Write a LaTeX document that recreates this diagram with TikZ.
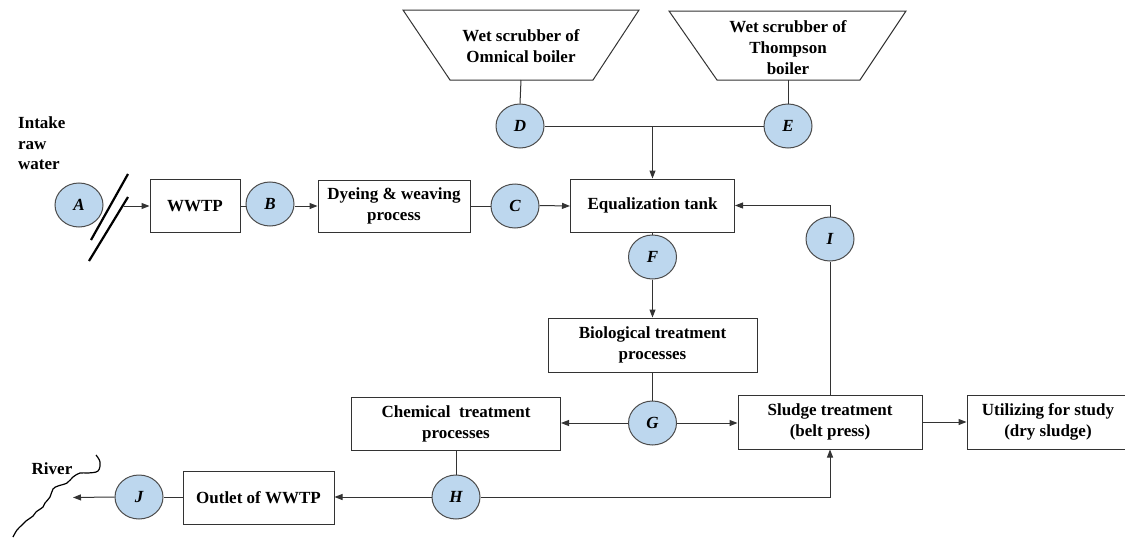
\documentclass[tikz,border=0pt]{standalone}
\usepackage{fontspec}
\setmainfont{Liberation Serif}
\usetikzlibrary{arrows.meta,shapes.geometric}
\definecolor{ptblue}{HTML}{BDD7EE}
\begin{document}
\begin{tikzpicture}[x=1pt,y=-1pt,
  every node/.style={font=\fontsize{17}{21}\selectfont\bfseries},
  box/.style={draw=black!80, line width=1pt, rectangle, align=center, inner sep=0pt},
  pt/.style={draw=black!70, line width=1pt, fill=ptblue, ellipse, minimum width=48pt, minimum height=44pt, inner sep=0pt, font=\fontsize{17}{21}\selectfont\bfseries\itshape},
  ln/.style={draw=black!80, line width=1pt},
  arr/.style={ln, -{Triangle[length=8pt,width=6pt]}},
]
\useasboundingbox (0,0) rectangle (1125,538);
\clip (0,0) rectangle (1125,538);

% text at left
\node[anchor=north west, align=left, inner sep=0pt, font=\fontsize{17}{20.5}\selectfont\bfseries] (intake) at (18,117) {Intake\\raw\\water};

% trapezoids
\draw[ln] (403,10) -- (639,10) -- (593,80) -- (450,80) -- cycle;
\node[align=center] (t1) at (521,46) {Wet scrubber of\\Omnical boiler};
\coordinate (t1b) at (521,80);
\draw[ln] (669,11) -- (906,11) -- (860,80) -- (717,80) -- cycle;
\node[align=center] (t2) at (788,48) {Wet scrubber of\\Thompson\\boiler};
\coordinate (t2b) at (788,80);

% boxes
\node[box, minimum width=90pt, minimum height=53pt] (wwtp) at (195,206) {WWTP};
\node[box, minimum width=152pt, minimum height=52pt] (dye) at (394,206) {Dyeing \& weaving\\process};
\node[box, minimum width=164pt, minimum height=53pt] (eq) at (652.5,205.5) {Equalization tank};
\node[box, minimum width=209pt, minimum height=54pt] (bio) at (652.5,345) {Biological treatment\\processes};
\node[box, minimum width=209pt, minimum height=53pt] (chem) at (456,423.5) {Chemical \ treatment\\processes};
\node[box, minimum width=184pt, minimum height=54pt] (sludge) at (830,422) {Sludge treatment\\(belt press)};
\node[box, minimum width=162pt, minimum height=54pt] (util) at (1048,422) {Utilizing for study\\(dry sludge)};
\node[box, minimum width=151pt, minimum height=53pt] (outlet) at (258.5,497.5) {Outlet of WWTP};

% points
\node[pt] (A) at (79,205) {A};
\node[pt] (B) at (270,204) {B};
\node[pt] (C) at (515,206) {C};
\node[pt] (D) at (520,126) {D};
\node[pt] (E) at (788,126) {E};
\node[pt] (F) at (652.5,257) {F};
\node[pt] (G) at (652.5,423) {G};
\node[pt] (H) at (456,497) {H};
\node[pt] (I) at (830,239) {I};
\node[pt] (J) at (139,497) {J};

% slashes
\coordinate (s1a) at (128,174);
\coordinate (s1b) at (91,240);
\coordinate (s2a) at (128,197);
\coordinate (s2b) at (89,261);
\draw[black, line width=2.2pt] (s1a) -- (s1b);
\draw[black, line width=2.2pt] (s2a) -- (s2b);
\coordinate (a1) at (124,206);

% river
\node[inner sep=0pt, anchor=base] (river) at (52,474) {River};
\coordinate (rv) at (73,497.5);
\draw[black, line width=1.2pt] plot[smooth, tension=0.6] coordinates {(96,455) (100,462) (98,471) (88,473) (80,473) (73,477) (67,483) (58,486) (53,489) (50,497) (45,503) (43,507) (36,512) (33,516) (26,521) (22,525) (17,530) (13,537)};

% connectors
\draw[arr] (a1) -- (wwtp.west);
\draw[ln] (wwtp.east) -- (B.west |- wwtp.east);
\draw[arr] (B.east |- dye.west) -- (dye.west);
\draw[ln] (dye.east) -- (C.west |- dye.east);
\draw[arr] (C.east |- eq.west) -- (eq.west |- C.east);
\draw[ln] (t1b) -- (D.north);
\draw[ln] (t2b) -- (E.north);
\draw[ln] (D.east) -- (E.west);
\coordinate (jn) at (652.5,126);
\draw[arr] (jn) -- (eq.north);
\draw[ln] (eq.south) -- (F.north);
\draw[arr] (F.south) -- (bio.north);
\draw[ln] (bio.south) -- (G.north);
\draw[arr] (G.west) -- (chem.east |- G.west);
\draw[arr] (G.east) -- (sludge.west |- G.east);
\draw[arr] (sludge.east) -- (util.west);
\draw[ln] (sludge.north) -- (I.south);
\draw[arr] (I.north) |- (eq.east);
\draw[ln] (chem.south) -- (H.north);
\draw[arr] (H.west) -- (outlet.east |- H.west);
\draw[arr] (H.east) -| (sludge.south);
\draw[ln] (outlet.west |- J.east) -- (J.east);
\draw[arr] (J.west) -- (rv);
\end{tikzpicture}
\end{document}
